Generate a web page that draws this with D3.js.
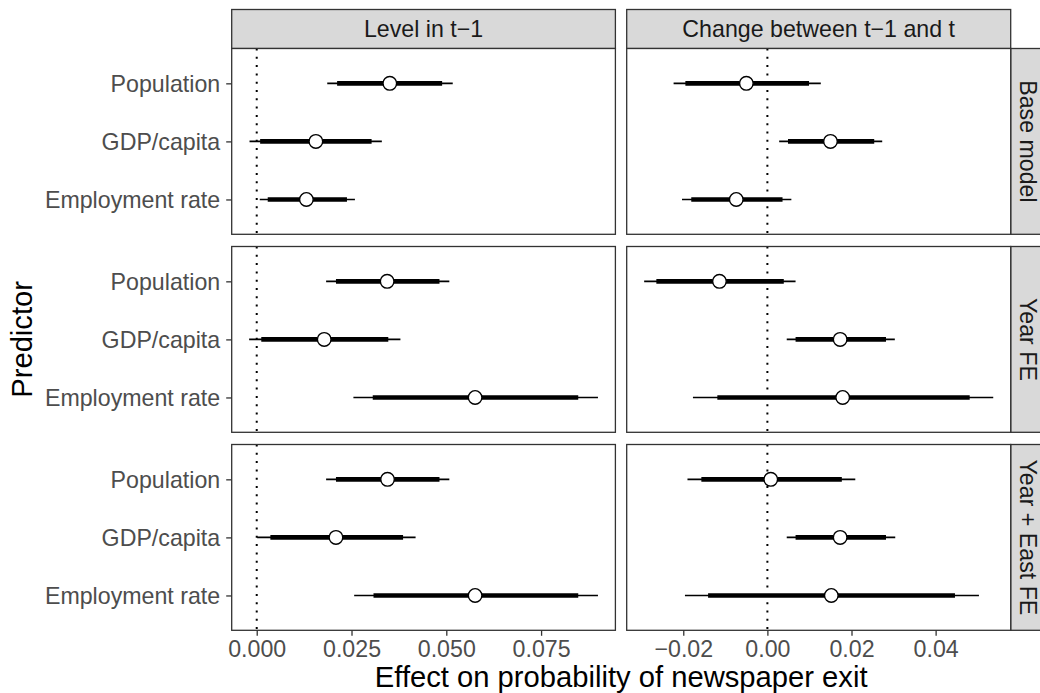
<!DOCTYPE html>
<html>
<head>
<meta charset="utf-8">
<script src="https://cdn.jsdelivr.net/npm/d3@7"></script>
<style>
  html, body { margin: 0; padding: 0; background: #fff; }
  svg { display: block; font-family: "Liberation Sans", Arial, Helvetica, sans-serif; }
</style>
</head>
<body>
<svg id="chart" width="1040" height="693"></svg>
<script>
// Facet labels and predictor categories
const predictors = ["Population", "GDP/capita", "Employment rate"];
const models = ["Base model", "Year FE", "Year + East FE"];
const terms = ["Level in t\u22121", "Change between t\u22121 and t"];

// Estimates and intervals, one row per model, one entry per predictor
const levelEstimate = [[0.0351, 0.0156, 0.0131], [0.0344, 0.0178, 0.0576], [0.0345, 0.0209, 0.0576]];
const levelInnerLow = [[0.0212, 0.0009, 0.0029], [0.0209, 0.0012, 0.0306], [0.0209, 0.0036, 0.0308]];
const levelInnerHigh = [[0.0489, 0.0303, 0.0238], [0.0482, 0.0347, 0.0848], [0.0482, 0.0386, 0.0848]];
const levelOuterLow = [[0.0186, -0.0019, 0.0008], [0.0183, -0.0020, 0.0255], [0.0183, 0.0001, 0.0257]];
const levelOuterHigh = [[0.0517, 0.0330, 0.0259], [0.0508, 0.0379, 0.0900], [0.0508, 0.0419, 0.0900]];

const changeEstimate = [[-0.0050, 0.0150, -0.0074], [-0.0114, 0.0173, 0.0179], [0.0008, 0.0173, 0.0152]];
const changeInnerLow = [[-0.0195, 0.0049, -0.0181], [-0.0264, 0.0067, -0.0119], [-0.0157, 0.0067, -0.0141]];
const changeInnerHigh = [[0.0099, 0.0254, 0.0036], [0.0039, 0.0282, 0.0481], [0.0177, 0.0282, 0.0446]];
const changeOuterLow = [[-0.0223, 0.0028, -0.0203], [-0.0293, 0.0046, -0.0177], [-0.0190, 0.0046, -0.0196]];
const changeOuterHigh = [[0.0127, 0.0273, 0.0057], [0.0067, 0.0303, 0.0537], [0.0209, 0.0304, 0.0503]];

// Axis ticks per column
const levelTicks = [0, 0.025, 0.05, 0.075];
const levelTickLabels = ["0.000", "0.025", "0.050", "0.075"];
const changeTicks = [-0.02, 0, 0.02, 0.04];
const changeTickLabels = ["\u22120.02", "0.00", "0.02", "0.04"];

const xTitle = "Effect on probability of newspaper exit";
const yTitle = "Predictor";

// ---- layout ----
const svg = d3.select("#chart");
const colX = [[231.7, 615.4], [626.7, 1010.7]];
const rowTop = [48.5, 246.5, 444.5];
const panelH = 185.8;
const stripTop = 9.5;
const stripW = 39;
const border = "#333333";
const tickFont = 23.2;
const titleFont = 29.2;

const columns = [
  { est: levelEstimate, il: levelInnerLow, ih: levelInnerHigh, ol: levelOuterLow, oh: levelOuterHigh,
    ticks: levelTicks, labels: levelTickLabels },
  { est: changeEstimate, il: changeInnerLow, ih: changeInnerHigh, ol: changeOuterLow, oh: changeOuterHigh,
    ticks: changeTicks, labels: changeTickLabels }
];

// free x scale per column, ggplot-style 5% expansion
columns.forEach((c, ci) => {
  const lo = d3.min(c.ol.flat()), hi = d3.max(c.oh.flat());
  const pad = (hi - lo) * 0.05;
  c.x = d3.scaleLinear().domain([lo - pad, hi + pad]).range(colX[ci]);
});

svg.append("rect").attr("width", 1040).attr("height", 693).attr("fill", "#fff");

// top strips
terms.forEach((t, ci) => {
  const g = svg.append("g");
  g.append("rect")
    .attr("x", colX[ci][0]).attr("y", stripTop)
    .attr("width", colX[ci][1] - colX[ci][0]).attr("height", rowTop[0] - stripTop)
    .attr("fill", "#D9D9D9").attr("stroke", border).attr("stroke-width", 1.3);
  g.append("text")
    .attr("x", (colX[ci][0] + colX[ci][1]) / 2).attr("y", (stripTop + rowTop[0]) / 2)
    .attr("dy", "0.35em").attr("text-anchor", "middle")
    .attr("font-size", tickFont).attr("fill", "#1A1A1A").text(t);
});

models.forEach((m, ri) => {
  const top = rowTop[ri], bottom = top + panelH;
  const y = d3.scalePoint().domain(predictors).range([top, bottom]).padding(0.6);

  // right strip
  const sx = colX[1][1];
  svg.append("rect")
    .attr("x", sx).attr("y", top).attr("width", stripW).attr("height", panelH)
    .attr("fill", "#D9D9D9").attr("stroke", border).attr("stroke-width", 1.3);
  svg.append("text")
    .attr("transform", `translate(${sx + stripW / 2 - 2.5},${top + panelH / 2}) rotate(90)`)
    .attr("dy", "0.35em").attr("text-anchor", "middle")
    .attr("font-size", tickFont).attr("fill", "#1A1A1A").text(m);

  columns.forEach((c, ci) => {
    const x = c.x;
    const g = svg.append("g");
    const x0 = colX[ci][0], x1 = colX[ci][1];

    g.append("rect").attr("x", x0).attr("y", top).attr("width", x1 - x0).attr("height", panelH)
      .attr("fill", "#fff");

    // reference line at zero
    g.append("line")
      .attr("x1", x(0)).attr("x2", x(0)).attr("y1", top).attr("y2", bottom)
      .attr("stroke", "#000").attr("stroke-width", 2).attr("stroke-dasharray", "2,6.3");

    const rows = predictors.map((p, pi) => ({
      p, est: c.est[ri][pi], il: c.il[ri][pi], ih: c.ih[ri][pi], ol: c.ol[ri][pi], oh: c.oh[ri][pi]
    }));

    g.selectAll(".outer").data(rows).join("line")
      .attr("x1", d => x(d.ol)).attr("x2", d => x(d.oh))
      .attr("y1", d => y(d.p)).attr("y2", d => y(d.p))
      .attr("stroke", "#000").attr("stroke-width", 1.6);
    g.selectAll(".inner").data(rows).join("line")
      .attr("x1", d => x(d.il)).attr("x2", d => x(d.ih))
      .attr("y1", d => y(d.p)).attr("y2", d => y(d.p))
      .attr("stroke", "#000").attr("stroke-width", 4.6);
    g.selectAll("circle").data(rows).join("circle")
      .attr("cx", d => x(d.est)).attr("cy", d => y(d.p)).attr("r", 6.8)
      .attr("fill", "#fff").attr("stroke", "#000").attr("stroke-width", 1.4);

    g.append("rect").attr("x", x0).attr("y", top).attr("width", x1 - x0).attr("height", panelH)
      .attr("fill", "none").attr("stroke", border).attr("stroke-width", 1.3);

    // y axis on the left column
    if (ci === 0) {
      const ax = svg.append("g").attr("transform", `translate(${x0},0)`)
        .call(d3.axisLeft(y).tickSize(5.5).tickPadding(6));
      ax.select(".domain").remove();
      ax.selectAll("line").attr("stroke", border).attr("stroke-width", 1.3);
      ax.selectAll("text").attr("font-size", tickFont).attr("fill", "#4D4D4D")
        .attr("font-family", null).attr("dy", "0.35em");
    }
    // x axis on the bottom row
    if (ri === models.length - 1) {
      const ax = svg.append("g").attr("transform", `translate(0,${bottom})`)
        .call(d3.axisBottom(x).tickValues(c.ticks).tickFormat((d, i) => c.labels[i])
          .tickSize(5.5).tickPadding(5.2));
      ax.select(".domain").remove();
      ax.selectAll("line").attr("stroke", border).attr("stroke-width", 1.3);
      ax.selectAll("text").attr("font-size", tickFont).attr("fill", "#4D4D4D")
        .attr("font-family", null);
    }
  });
});

// axis titles
svg.append("text")
  .attr("x", (colX[0][0] + colX[1][1]) / 2).attr("y", 686.5)
  .attr("text-anchor", "middle").attr("font-size", titleFont).attr("fill", "#000")
  .text(xTitle);
svg.append("text")
  .attr("transform", `translate(32,${rowTop[0] + (rowTop[2] + panelH - rowTop[0]) / 2}) rotate(-90)`)
  .attr("text-anchor", "middle").attr("font-size", titleFont).attr("fill", "#000")
  .text(yTitle);
</script>
</body>
</html>
